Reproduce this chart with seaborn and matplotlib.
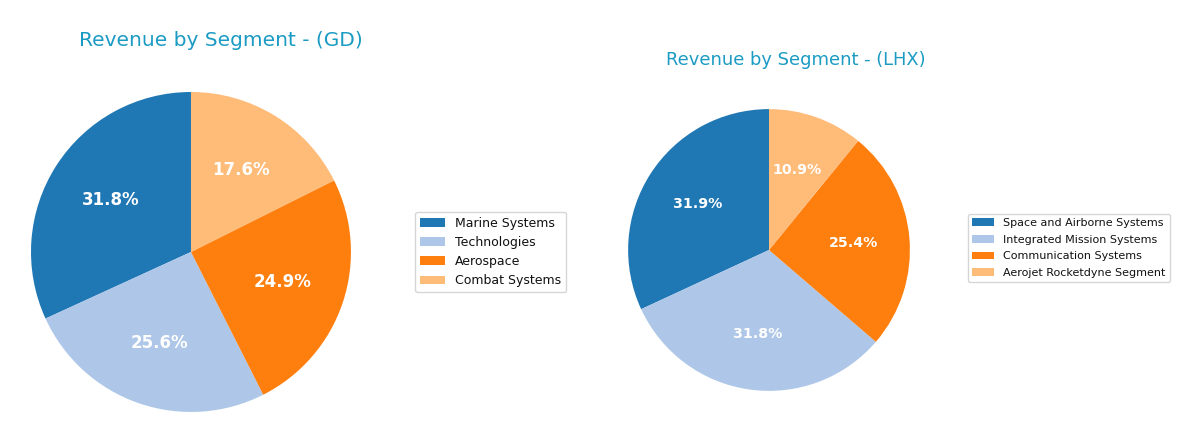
import matplotlib
matplotlib.use("Agg")
import matplotlib.pyplot as plt
import seaborn as sns

sns.set_theme(style="white")
plt.rcParams['font.family'] = ['DejaVu Sans']

gd_labels = ["Marine Systems", "Technologies", "Aerospace", "Combat Systems"]
gd_values = [31.8, 25.6, 24.9, 17.6]
lhx_labels = ["Space and Airborne Systems", "Integrated Mission Systems",
              "Communication Systems", "Aerojet Rocketdyne Segment"]
lhx_values = [31.9, 31.8, 25.4, 10.9]

colors = sns.color_palette("tab20", 4)
title_color = "#1b9bc3"

fig = plt.figure(figsize=(12, 4.43), dpi=100)
ax1 = fig.add_axes([0.0125, 0.0339, 0.2933, 0.7946])
ax2 = fig.add_axes([0.5117, 0.0858, 0.2583, 0.6998])

def draw(ax, values, labels, fs):
    wedges, texts, autotexts = ax.pie(values, colors=colors, startangle=90,
                                      autopct="%1.1f%%", pctdistance=0.6,
                                      wedgeprops=dict(linewidth=0, edgecolor="none"),
                                      textprops=dict(color="white", fontweight="bold", fontsize=fs))
    ax.set_xlim(-1.1, 1.1)
    ax.set_ylim(-1.1, 1.1)
    ax.set_aspect("equal")
    ax.axis("off")
    return wedges

w1 = draw(ax1, gd_values, gd_labels, 12)
w2 = draw(ax2, lhx_values, lhx_labels, 10.2)

fig.text(221/1200, 1-40/443, "Revenue by Segment - (GD)", ha="center", va="center",
         fontsize=14.5, color=title_color)
fig.text(796/1200, 1-60/443, "Revenue by Segment - (LHX)", ha="center", va="center",
         fontsize=12.9, color=title_color)

fig.legend(w1, gd_labels, loc="center left", bbox_to_anchor=(409/1200, 1-252/443),
           fontsize=9, frameon=True, labelcolor="#111111")
fig.legend(w2, lhx_labels, loc="center left", bbox_to_anchor=(962/1200, 1-248/443),
           fontsize=8, frameon=True, labelcolor="#111111", labelspacing=0.6)

fig.savefig("out.png", dpi=100, facecolor="white")
